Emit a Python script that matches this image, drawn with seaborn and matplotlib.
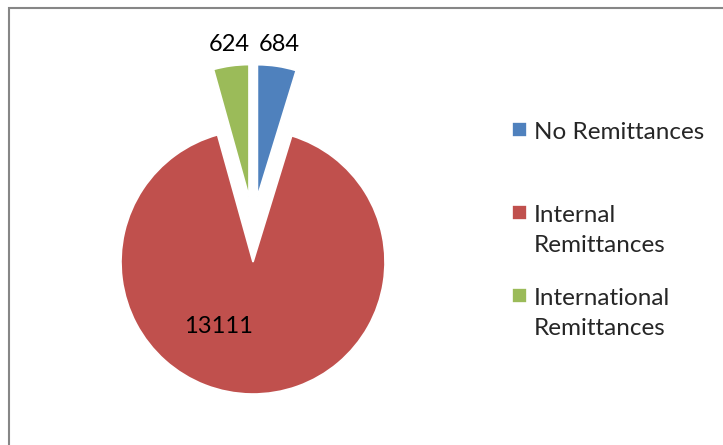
import matplotlib.pyplot as plt
import seaborn as sns
from matplotlib.patches import Rectangle

categories = ["No Remittances", "Internal\nRemittances", "International\nRemittances"]
values = [684, 13111, 624]
explode = [0.5, 0.0, 0.5]
colors = sns.color_palette(["#4F81BD", "#C0504D", "#9BBB59"])

sns.set_theme(style="white")
plt.rcParams["font.family"] = ["Lato", "DejaVu Sans"]

W, H = 723, 445
fig = plt.figure(figsize=(W / 100, H / 100), dpi=100)

# pie centre and radius in pixels
cx, cy, R = 253, 262, 132
lim = 1.6
ax = fig.add_axes([(cx - lim * R) / W, (H - cy - lim * R) / H,
                   2 * lim * R / W, 2 * lim * R / H])
wedges, _ = ax.pie(values, explode=explode, colors=colors, startangle=90,
                   counterclock=False, radius=1,
                   wedgeprops=dict(edgecolor="white", linewidth=1.2))
# Excel pulls the slices out almost straight up; damp the sideways part
for w, e in zip(wedges, explode):
    if e:
        x0, y0 = w.center
        w.set_center((x0 * 0.45, y0))
ax.set_xlim(-lim, lim)
ax.set_ylim(-lim, lim)
ax.set_aspect("equal")
ax.axis("off")

# data labels
label_pos = [(0.197, 1.645), (-0.265, -0.49), (-0.182, 1.645)]
for v, (x, y) in zip(values, label_pos):
    ax.text(x, y, str(v), ha="center", va="center", fontsize=17, color="black")

# legend
leg_labels = ["No Remittances\n", "Internal\nRemittances", "International\nRemittances"]
leg = fig.legend(wedges, leg_labels, loc="upper left",
                 bbox_to_anchor=(512 / W, 1 - 122 / H), frameon=False,
                 fontsize=17.5, handlelength=0.6, handleheight=0.6,
                 handletextpad=0.3, labelspacing=1.3, borderpad=0,
                 borderaxespad=0)
for t in leg.get_texts():
    t.set_linespacing(1.55)
for col in leg._legend_handle_box.get_children():
    for row in col.get_children():
        row.align = "top"

# outer chart border
fig.patches.append(Rectangle((8.5 / W, -0.1), 1.0, 1.1 - 8.5 / H,
                             transform=fig.transFigure, fill=False,
                             edgecolor="#868686", linewidth=1.5))

fig.savefig("out.png", dpi=100)
